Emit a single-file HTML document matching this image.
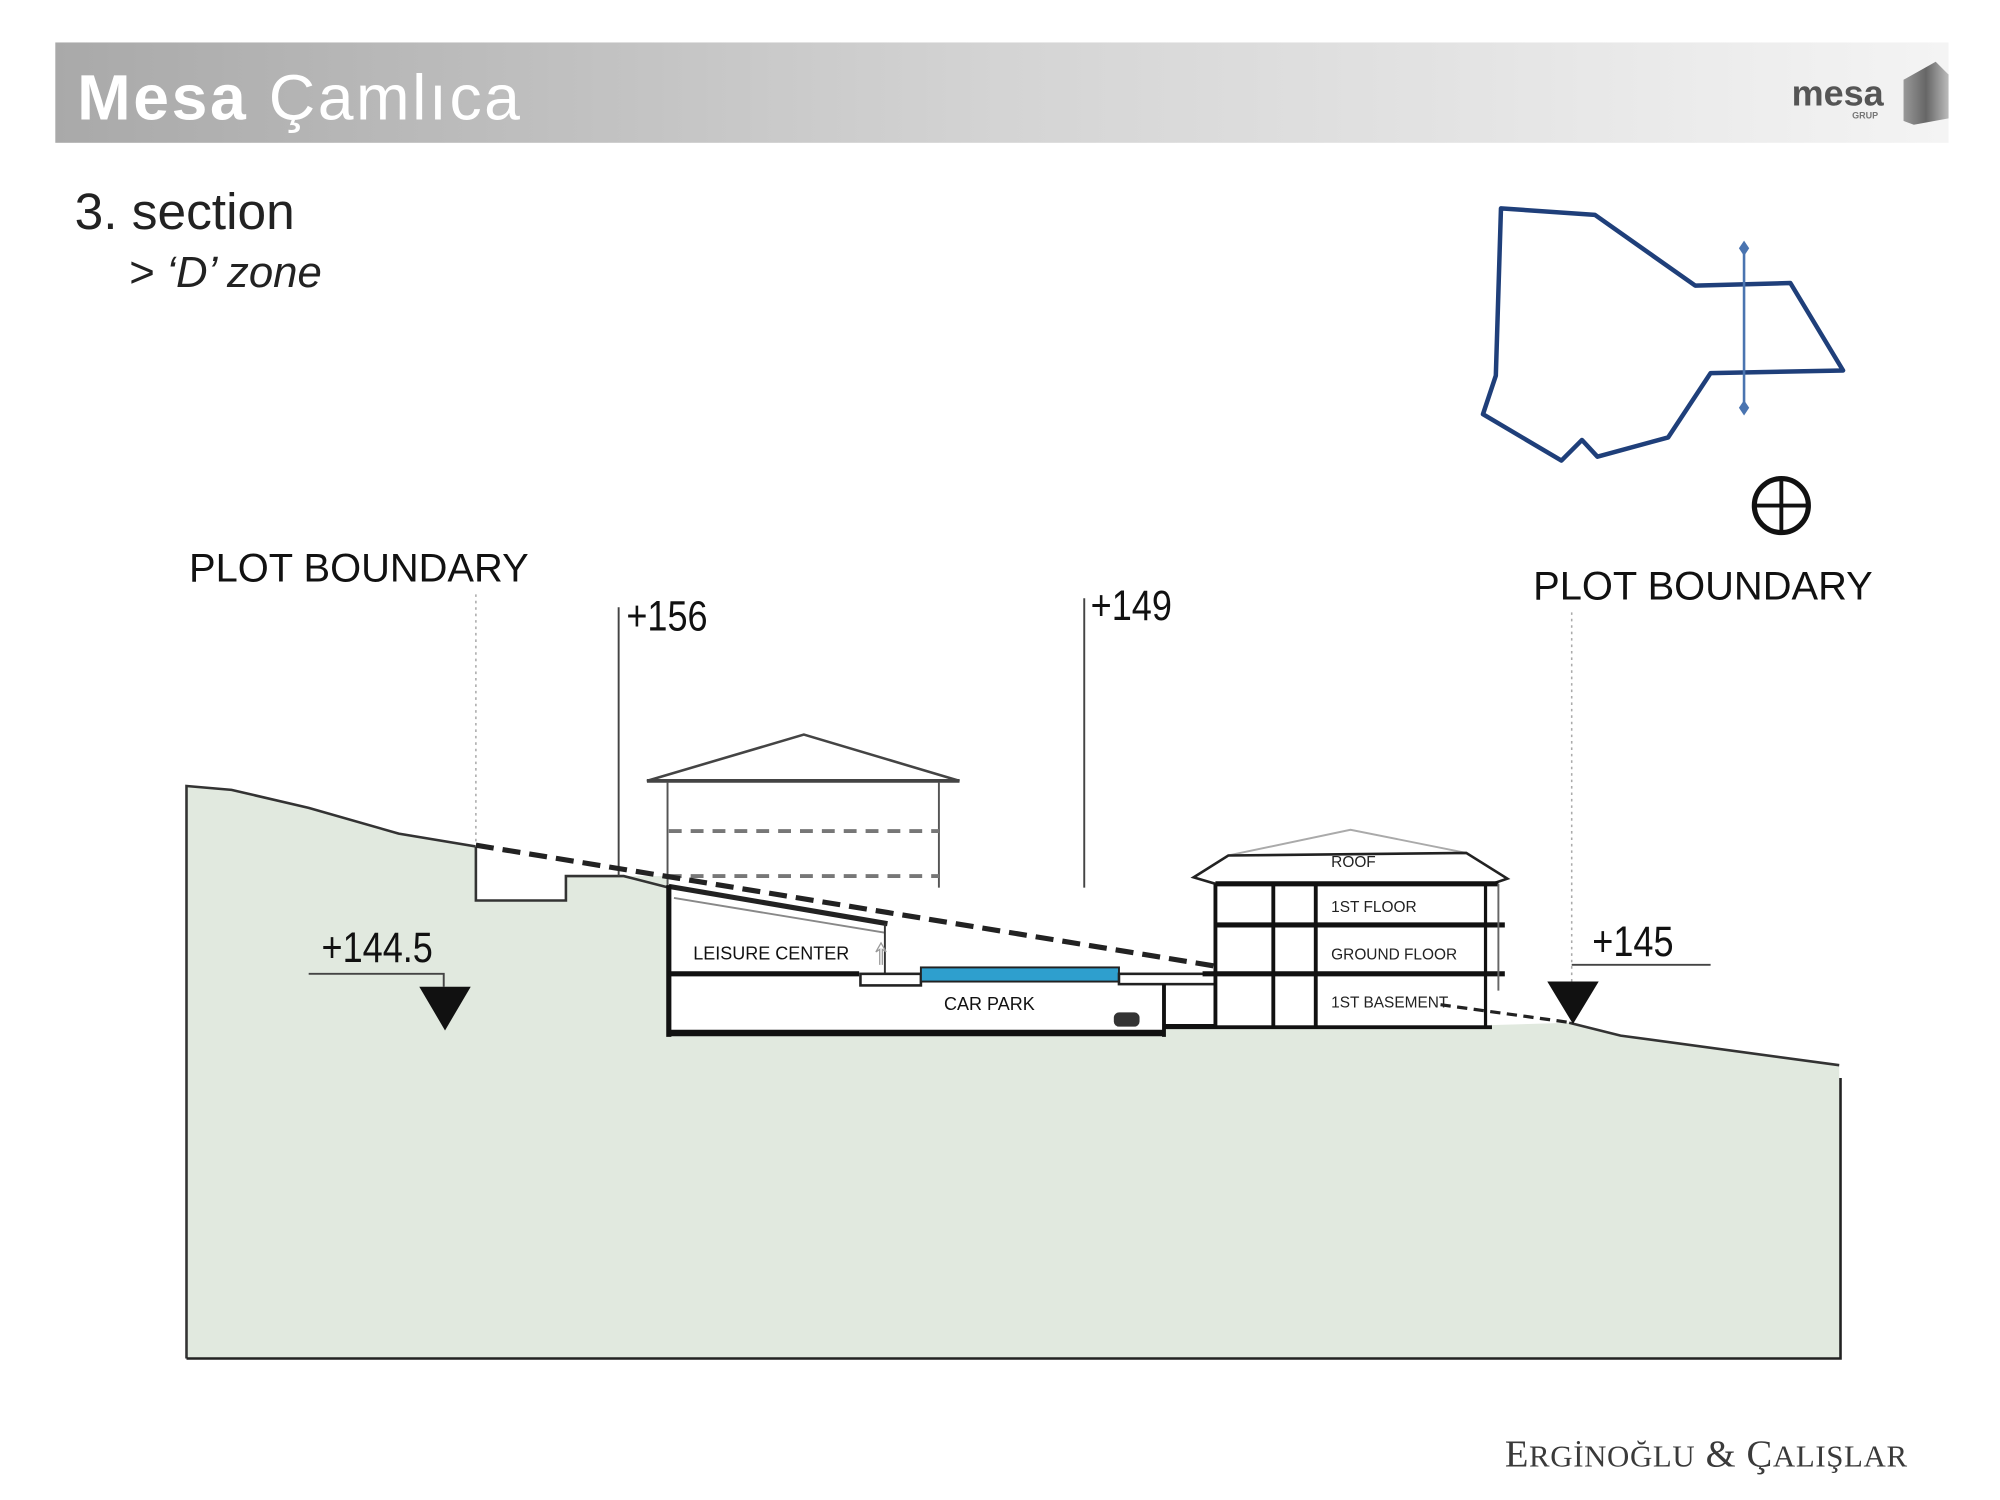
<!DOCTYPE html>
<html><head><meta charset="utf-8"><style>
html,body{margin:0;padding:0;background:#fff;width:2000px;height:1500px;overflow:hidden}
svg{display:block}
</style></head><body>
<svg width="2000" height="1500" viewBox="0 0 1555 1166" preserveAspectRatio="none" xmlns="http://www.w3.org/2000/svg">
<defs>
<linearGradient id="hb" x1="0" x2="1" y1="0" y2="0">
<stop offset="0" stop-color="#a9a9a9"/><stop offset="0.5" stop-color="#d4d4d4"/><stop offset="1" stop-color="#f4f4f4"/></linearGradient>
<linearGradient id="lg" x1="0" x2="1"><stop offset="0" stop-color="#999"/><stop offset="0.5" stop-color="#666"/><stop offset="1" stop-color="#bbb"/></linearGradient>
</defs>
<rect x="43" y="33" width="1472" height="78" fill="url(#hb)"/>
<text x="60" y="93" font-family="Liberation Sans, sans-serif" font-size="50" letter-spacing="2" fill="#fff"><tspan font-weight="bold">Mesa</tspan> Çamlıca</text>
<text x="1393" y="82" font-family="Liberation Sans, sans-serif" font-size="28" font-weight="bold" fill="#555">mesa</text>
<text x="1440" y="92" font-family="Liberation Sans, sans-serif" font-size="7" font-weight="bold" fill="#777">GRUP</text>
<polygon points="1480,62 1505,48 1515,58 1515,92 1488,97 1480,94" fill="url(#lg)"/>

<text x="58" y="178" font-family="Liberation Sans, sans-serif" font-size="40" fill="#222">3. section</text>
<text x="100" y="223" font-family="Liberation Sans, sans-serif" font-size="34" font-style="italic" fill="#222">&gt; ‘D’ zone</text>

<polygon points="1167,162 1240,167 1318,222 1392,220 1433,288 1330,290 1297,340 1242,355 1230,342 1214,358 1153,322 1163,292" fill="none" stroke="#1f3f7a" stroke-width="3.5" stroke-linejoin="round"/>
<line x1="1356" y1="192" x2="1356" y2="316" stroke="#4a74b0" stroke-width="2"/>
<polygon points="1356,187 1360,193 1356,199 1352,193" fill="#4a74b0"/>
<polygon points="1356,311 1360,317 1356,323 1352,317" fill="#4a74b0"/>
<circle cx="1385" cy="393" r="21" fill="none" stroke="#111" stroke-width="4"/>
<line x1="1364" y1="393" x2="1406" y2="393" stroke="#111" stroke-width="3"/>
<line x1="1385" y1="372" x2="1385" y2="414" stroke="#111" stroke-width="3"/>

<text x="147" y="452" font-family="Liberation Sans, sans-serif" font-size="31" fill="#111">PLOT BOUNDARY</text>
<text x="1192" y="466" font-family="Liberation Sans, sans-serif" font-size="31" fill="#111">PLOT BOUNDARY</text>

<path d="M145,611 L180,614 L240,628 L310,648 L370,658 L370,700 L440,700 L440,681 L520,681 L520,805 L905,805 L905,797 L1155,797 L1220,795 L1260,805 L1430,828 L1431,1056 L145,1056 Z" fill="#e1e9df"/>
<path d="M145,1056 L145,611 L180,614 L240,628 L310,648 L370,658 L370,700 L440,700 L440,681 L485,681 L520,690" fill="none" stroke="#333" stroke-width="2"/>
<path d="M1220,795 L1260,805 L1430,828" fill="none" stroke="#333" stroke-width="2"/>
<path d="M145,1056 L1431,1056 L1431,838" fill="none" stroke="#222" stroke-width="2"/>

<line x1="370" y1="462" x2="370" y2="658" stroke="#aaa" stroke-width="1.2" stroke-dasharray="2,3"/>
<line x1="1222" y1="476" x2="1222" y2="790" stroke="#aaa" stroke-width="1.2" stroke-dasharray="2,3"/>

<line x1="481" y1="472" x2="481" y2="681" stroke="#444" stroke-width="1.5"/>
<text x="487" y="490" font-family="Liberation Sans Narrow, Liberation Sans, sans-serif" font-size="33" fill="#111" transform="translate(487 490) scale(0.85 1) translate(-487 -490)">+156</text>
<line x1="843" y1="465" x2="843" y2="748" stroke="#444" stroke-width="1.5"/>
<text x="848" y="482" font-family="Liberation Sans Narrow, Liberation Sans, sans-serif" font-size="33" fill="#111" transform="translate(848 482) scale(0.85 1) translate(-848 -482)">+149</text>

<polygon points="503,607 625,571 746,607" fill="none" stroke="#444" stroke-width="2"/>
<line x1="503" y1="607" x2="746" y2="607" stroke="#444" stroke-width="3"/>
<line x1="519" y1="608" x2="519" y2="690" stroke="#555" stroke-width="1.5"/>
<line x1="730" y1="608" x2="730" y2="752" stroke="#555" stroke-width="1.5"/>
<line x1="520" y1="646" x2="730" y2="646" stroke="#777" stroke-width="3" stroke-dasharray="10,7"/>
<line x1="520" y1="681" x2="730" y2="681" stroke="#777" stroke-width="3" stroke-dasharray="10,7"/>
<line x1="800" y1="727" x2="800" y2="752" stroke="#777" stroke-width="1"/>

<rect x="520" y="690" width="385" height="115" fill="#fff"/>
<polygon points="520,690 688,718 688,757 520,757" fill="#fff"/>
<line x1="520" y1="689" x2="690" y2="718" stroke="#222" stroke-width="4"/>
<line x1="524" y1="698" x2="688" y2="725" stroke="#888" stroke-width="1.5"/>
<line x1="520" y1="688" x2="520" y2="806" stroke="#111" stroke-width="4"/>
<line x1="688" y1="718" x2="688" y2="757" stroke="#333" stroke-width="1.5"/>
<line x1="520" y1="757" x2="668" y2="757" stroke="#111" stroke-width="4"/>
<rect x="669" y="757" width="47" height="9" fill="#fff" stroke="#222" stroke-width="2"/>
<rect x="716" y="752" width="154" height="11" fill="#2e9fce" stroke="#222" stroke-width="1.5"/>
<rect x="870" y="757" width="75" height="8" fill="#fff" stroke="#222" stroke-width="2"/>
<line x1="520" y1="803" x2="905" y2="803" stroke="#111" stroke-width="5"/>
<line x1="905" y1="765" x2="905" y2="806" stroke="#111" stroke-width="3"/>
<line x1="905" y1="798" x2="1160" y2="798" stroke="#111" stroke-width="4"/>
<rect x="866" y="787" width="20" height="11" rx="4" fill="#333"/>
<text x="539" y="746" font-family="Liberation Sans Narrow, Liberation Sans, sans-serif" font-size="14" fill="#111">LEISURE CENTER</text>
<text x="734" y="785" font-family="Liberation Sans Narrow, Liberation Sans, sans-serif" font-size="14" fill="#111">CAR PARK</text>
<path d="M684,750 L684,738 L681,740 L685,733 L689,740 L686,738 L686,750" fill="none" stroke="#999" stroke-width="1"/>

<rect x="945" y="685" width="215" height="112" fill="#fff"/>
<polyline points="955,665 1050,645 1140,663" fill="none" stroke="#aaa" stroke-width="1.5"/>
<polygon points="928,682 955,665 1140,663 1172,683 1160,687 945,687" fill="#fff" stroke="#222" stroke-width="2"/>
<line x1="945" y1="687" x2="1165" y2="687" stroke="#111" stroke-width="4"/>
<line x1="945" y1="719" x2="1170" y2="719" stroke="#111" stroke-width="4"/>
<line x1="935" y1="757" x2="1170" y2="757" stroke="#111" stroke-width="4"/>
<line x1="945" y1="687" x2="945" y2="798" stroke="#111" stroke-width="3"/>
<line x1="990" y1="687" x2="990" y2="798" stroke="#111" stroke-width="3"/>
<line x1="1023" y1="687" x2="1023" y2="798" stroke="#111" stroke-width="3"/>
<line x1="1155" y1="687" x2="1155" y2="798" stroke="#111" stroke-width="2.5"/>
<line x1="1165" y1="687" x2="1165" y2="770" stroke="#666" stroke-width="1.5"/>
<text x="1035" y="674" font-family="Liberation Sans Narrow, Liberation Sans, sans-serif" font-size="12" fill="#222">ROOF</text>
<text x="1035" y="709" font-family="Liberation Sans Narrow, Liberation Sans, sans-serif" font-size="12" fill="#222">1ST FLOOR</text>
<text x="1035" y="746" font-family="Liberation Sans Narrow, Liberation Sans, sans-serif" font-size="12" fill="#222">GROUND FLOOR</text>
<text x="1035" y="783" font-family="Liberation Sans Narrow, Liberation Sans, sans-serif" font-size="12" fill="#222">1ST BASEMENT</text>

<line x1="370" y1="657" x2="945" y2="751" stroke="#222" stroke-width="4" stroke-dasharray="14,7"/>
<line x1="1120" y1="781" x2="1222" y2="795" stroke="#222" stroke-width="2.5" stroke-dasharray="8,5"/>

<text x="250" y="748" font-family="Liberation Sans Narrow, Liberation Sans, sans-serif" font-size="33" fill="#111" transform="translate(250 748) scale(0.85 1) translate(-250 -748)">+144.5</text>
<polyline points="240,757 345,757 345,767" fill="none" stroke="#444" stroke-width="1.5"/>
<polygon points="326,767 366,767 346,801" fill="#111"/>
<text x="1238" y="743" font-family="Liberation Sans Narrow, Liberation Sans, sans-serif" font-size="33" fill="#111" transform="translate(1238 743) scale(0.85 1) translate(-1238 -743)">+145</text>
<line x1="1222" y1="750" x2="1330" y2="750" stroke="#444" stroke-width="1.5"/>
<polygon points="1203,763 1243,763 1223,796" fill="#111"/>

<text x="1170" y="1140" font-family="Liberation Serif, serif" font-size="30" letter-spacing="0.5" fill="#3a3a3a">E<tspan font-size="24">RGİNOĞLU</tspan> &amp; Ç<tspan font-size="24">ALIŞLAR</tspan></text>
</svg>
</body></html>
